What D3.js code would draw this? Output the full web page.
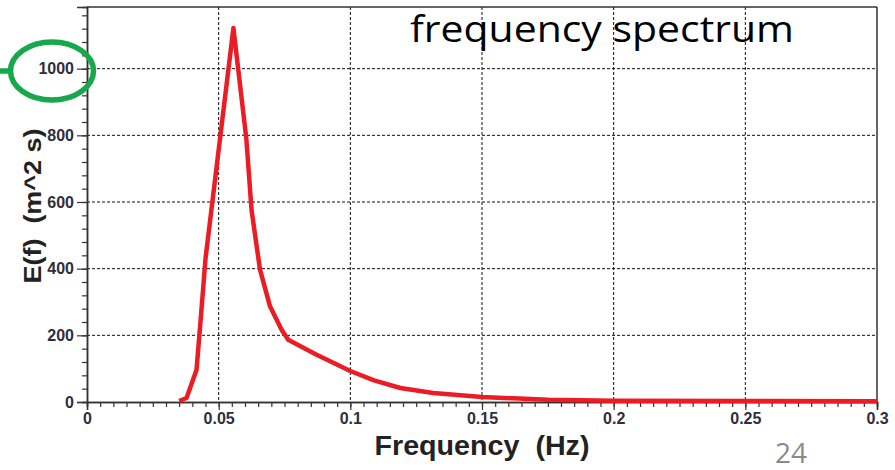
<!DOCTYPE html>
<html>
<head>
<meta charset="utf-8">
<script src="https://cdn.jsdelivr.net/npm/d3@7"></script>
<style>
  html, body { margin: 0; padding: 0; background: #fff; }
  svg { display: block; }
</style>
</head>
<body>
<script>
// values
const freq = [0.035, 0.0378, 0.0416, 0.0435, 0.045, 0.0556, 0.0605, 0.0625, 0.0657, 0.0695, 0.0739, 0.0764, 0.0872, 0.1, 0.109, 0.119, 0.1315, 0.15, 0.175, 0.2, 0.25, 0.3]
const energy = [3, 12, 97, 280, 430, 1122, 790, 575, 397, 287, 217, 187, 142, 93, 65, 42, 27, 15, 7, 4, 3, 2]
const xTicks = [0, 0.05, 0.1, 0.15, 0.2, 0.25, 0.3]
const yTicks = [0, 200, 400, 600, 800, 1000]

const width = 895, height = 470
const svg = d3.select('body').append('svg').attr('width', width).attr('height', height)

const x = d3.scaleLinear().domain([0, 0.3]).range([87, 877])
const y = d3.scaleLinear().domain([0, 1185]).range([402, 7])

const tickColor = '#2e2e3c'

// grid
svg.append('g').selectAll('line').data(yTicks.filter(d => d > 0)).join('line')
  .attr('x1', x(0)).attr('x2', x(0.3))
  .attr('y1', d => y(d)).attr('y2', d => y(d))
  .attr('stroke', '#111').attr('stroke-width', 1).attr('stroke-dasharray', '3,2')
svg.append('g').selectAll('line').data(xTicks.filter(d => d > 0 && d < 0.3)).join('line')
  .attr('x1', d => x(d)).attr('x2', d => x(d))
  .attr('y1', y(1185)).attr('y2', y(0))
  .attr('stroke', '#111').attr('stroke-width', 1).attr('stroke-dasharray', '3,2')

// minor ticks
const xAxisMinor = d3.axisBottom(x).tickValues(d3.range(0, 0.3001, 0.005)).tickSize(5).tickFormat('')
const yAxisMinor = d3.axisLeft(y).tickValues(d3.range(0, 1185, 40)).tickSize(5).tickFormat('')
svg.append('g').attr('transform', `translate(0,${y(0)})`).call(xAxisMinor)
svg.append('g').attr('transform', `translate(${x(0)},0)`).call(yAxisMinor)

// major axes
const xAxis = d3.axisBottom(x).tickValues(xTicks).tickSize(8).tickPadding(3).tickFormat(d => String(+d.toFixed(2)))
const yAxis = d3.axisLeft(y).tickValues(yTicks).tickSize(10).tickPadding(3).tickFormat(d3.format('d'))
svg.append('g').attr('transform', `translate(0,${y(0)})`).call(xAxis)
svg.append('g').attr('transform', `translate(${x(0)},0)`).call(yAxis)

svg.selectAll('.domain').attr('stroke', '#333').attr('stroke-width', 1.5)
svg.selectAll('.tick line').attr('stroke', '#333').attr('stroke-width', 1.2)
svg.selectAll('.tick text')
  .attr('fill', tickColor)
  .style('font-family', 'Liberation Sans, Arial, sans-serif')
  .style('font-size', '16px')
  .style('font-weight', 'bold')

// frame: top and right
svg.append('line').attr('x1', x(0)).attr('x2', x(0.3)).attr('y1', y(1185)).attr('y2', y(1185))
  .attr('stroke', '#333').attr('stroke-width', 1.5)
svg.append('line').attr('x1', x(0.3)).attr('x2', x(0.3)).attr('y1', y(1185)).attr('y2', y(0))
  .attr('stroke', '#333').attr('stroke-width', 1.5)

// spectrum curve
const line = d3.line().x((d, i) => x(freq[i])).y(d => y(d))
svg.append('path').datum(energy)
  .attr('d', line)
  .attr('fill', 'none')
  .attr('stroke', '#ec1c24')
  .attr('stroke-width', 4.5)
  .attr('stroke-linejoin', 'round')

// axis titles
svg.append('text')
  .attr('x', 482).attr('y', 455)
  .attr('text-anchor', 'middle')
  .attr('textLength', 215).attr('lengthAdjust', 'spacingAndGlyphs')
  .style('white-space', 'pre')
  .style('font-family', 'Liberation Sans, Arial, sans-serif')
  .style('font-size', '27px').style('font-weight', 'bold')
  .attr('fill', '#222')
  .text('Frequency  (Hz)')

svg.append('text')
  .attr('transform', 'translate(41,206) rotate(-90)')
  .attr('text-anchor', 'middle')
  .attr('textLength', 155).attr('lengthAdjust', 'spacingAndGlyphs')
  .style('white-space', 'pre')
  .style('font-family', 'Liberation Sans, Arial, sans-serif')
  .style('font-size', '24px').style('font-weight', 'bold')
  .attr('fill', '#222')
  .text('E(f)  (m^2 s)')

// slide title and page number
svg.append('text')
  .attr('x', 410).attr('y', 42)
  .attr('textLength', 384).attr('lengthAdjust', 'spacingAndGlyphs')
  .style('font-family', 'Open Sans, sans-serif')
  .style('font-size', '36px')
  .attr('fill', '#000')
  .text('frequency spectrum')

svg.append('text')
  .attr('x', 775).attr('y', 463)
  .attr('textLength', 32).attr('lengthAdjust', 'spacingAndGlyphs')
  .style('font-family', 'Open Sans, sans-serif')
  .style('font-size', '27px')
  .attr('fill', '#8a8a8a')
  .text('24')

// green highlight around 1000
svg.append('ellipse')
  .attr('cx', 52).attr('cy', 71).attr('rx', 41.5).attr('ry', 29)
  .attr('fill', 'none').attr('stroke', '#16a84b').attr('stroke-width', 5.5)
svg.append('line')
  .attr('x1', 0).attr('x2', 11).attr('y1', 71).attr('y2', 71)
  .attr('stroke', '#16a84b').attr('stroke-width', 5.5)
</script>
</body>
</html>
